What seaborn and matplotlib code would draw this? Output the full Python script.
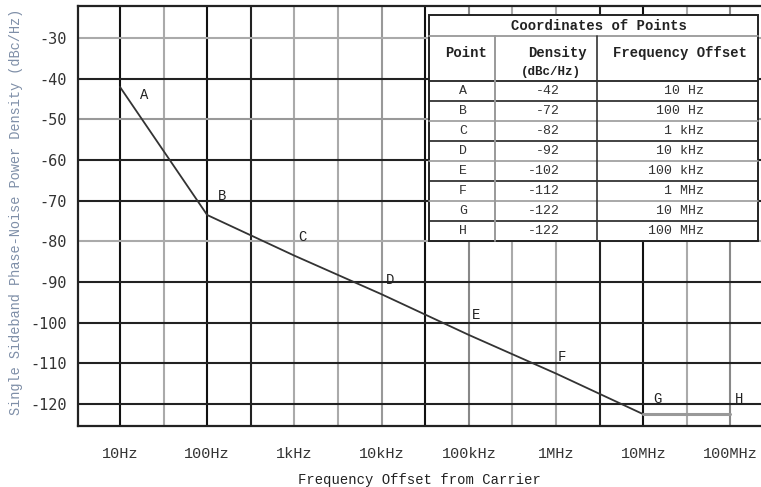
import matplotlib
matplotlib.use("Agg")
import matplotlib.pyplot as plt
import seaborn as sns
import numpy as np
import pandas as pd
from matplotlib.patches import Rectangle
from matplotlib.lines import Line2D

# data
points = ["A", "B", "C", "D", "E", "F", "G", "H"]
freq_hz = [1e1, 1e2, 1e3, 1e4, 1e5, 1e6, 1e7, 1e8]
# curve as drawn in the picture
curve_db = [-42, -73.5, -83.5, -93, -103, -112.5, -122.5, -122.5]
# values listed in the table
table_density = [-42, -72, -82, -92, -102, -112, -122, -122]
table_freq = ["10 Hz", "100 Hz", "1 kHz", "10 kHz", "100 kHz", "1 MHz", "10 MHz", "100 MHz"]
xtick_labels = ["10Hz", "100Hz", "1kHz", "10kHz", "100kHz", "1MHz", "10MHz", "100MHz"]
yticks = [-30, -40, -50, -60, -70, -80, -90, -100, -110, -120]

W, H = 761, 487
sns.set_style("white")
MONO = ["Liberation Mono", "DejaVu Sans Mono"]

fig = plt.figure(figsize=(W / 100, H / 100), dpi=100)
ax = fig.add_axes([78 / W, 1 - 426 / H, (W - 78) / W, (426 - 6) / H])

df = pd.DataFrame({"freq": freq_hz, "db": curve_db, "point": points})
sns.lineplot(data=df.iloc[:7], x="freq", y="db", ax=ax, color="#333333", lw=1.3, zorder=5)
sns.lineplot(data=df.iloc[6:], x="freq", y="db", ax=ax, color="#999999", lw=2.2, zorder=5)
ax.set_xscale("log")
ax.set_xlim(10 ** 0.519, 10 ** 8.35)
ax.set_ylim(-125.4, -22.1)

# grid lines (half-decade verticals, irregular shading like the original)
vgrid_exp = np.arange(1.0, 8.01, 0.5)
vgrid_col = ["#111", "#aaa", "#111", "#222", "#aaa", "#aaa", "#999", "#111",
             "#888", "#aaa", "#aaa", "#222", "#111", "#aaa", "#888"]
for e, c in zip(vgrid_exp, vgrid_col):
    ax.axvline(10 ** e, color=c, lw=1.5, zorder=1)
hgrid_col = {-30: "#aaa", -50: "#999", -80: "#aaa"}
for y in yticks:
    ax.axhline(y, color=hgrid_col.get(y, "#222"), lw=1.5, zorder=1)

for s in ["left", "bottom", "top"]:
    ax.spines[s].set_color("#222")
    ax.spines[s].set_linewidth(1.6)
ax.spines["right"].set_visible(False)

ax.set_xticks(freq_hz)
ax.set_xticklabels(xtick_labels, fontfamily=MONO, fontsize=11, color="#333")
ax.xaxis.set_minor_locator(matplotlib.ticker.NullLocator())
ax.set_yticks(yticks)
ax.set_yticklabels([f"{v}" for v in yticks], fontfamily=["DejaVu Sans Mono"], fontsize=11, color="#333")
ax.tick_params(axis="x", length=0, pad=15)
ax.tick_params(axis="y", length=0, pad=8)
ax.set_xlabel("Frequency Offset from Carrier", fontfamily=MONO, fontsize=10, color="#222", labelpad=9)
ax.set_ylabel("Single Sideband Phase-Noise Power Density (dBc/Hz)", fontfamily=MONO,
              fontsize=9.8, color="#7f8fa8")
ax.yaxis.set_label_coords(-(78 - 23) / (W - 78), 0.51)

# point labels
label_off = [(24, -8), (15, 19), (8, 19), (8, 14), (7, 20), (6, 17), (14, 15), (9, 15)]
for p, xf, yd, off in zip(points, freq_hz, curve_db, label_off):
    ax.annotate(p, (xf, yd), xytext=off, textcoords="offset pixels", ha="center",
                va="center", fontfamily=MONO, fontsize=10, color="#222", zorder=6)


# table drawn in figure pixels
def fx(x):
    return x / W


def fy(y):
    return 1 - y / H


def hline(y, x0, x1, c="#333", lw=1.2):
    fig.add_artist(Line2D([fx(x0), fx(x1)], [fy(y), fy(y)], color=c, lw=lw, zorder=11))


def vline(x, y0, y1, c="#333", lw=1.2):
    fig.add_artist(Line2D([fx(x), fx(x)], [fy(y0), fy(y1)], color=c, lw=lw, zorder=11))


fig.add_artist(Rectangle((fx(429), fy(241)), fx(758) - fx(429), fy(15) - fy(241),
                         facecolor="white", edgecolor="#222", lw=1.4, zorder=10))
hline(36, 429, 758, "#999", 1.3)
hline(81, 429, 758, "#222", 1.3)
row_y = [101, 121, 141, 161, 181, 201, 221]
row_c = ["#222", "#999", "#222", "#999", "#222", "#999", "#222"]
for y, c in zip(row_y, row_c):
    hline(y, 429, 758, c, 1.2)
vline(495, 36, 241, "#999", 1.4)
vline(597, 36, 241, "#333", 1.2)

tkw = dict(fontfamily=MONO, color="#222", zorder=12, va="center")
fig.text(fx(599), fy(26), "Coordinates of Points", ha="center", fontsize=10, weight="bold", **tkw)
fig.text(fx(466), fy(53), "Point", ha="center", fontsize=10, weight="bold", **tkw)
fig.text(fx(557), fy(53), "Density", ha="center", fontsize=10, weight="bold", **tkw)
fig.text(fx(551), fy(72), "(dBc/Hz)", ha="center", fontsize=9, weight="bold", **tkw)
fig.text(fx(680), fy(53), "Frequency Offset", ha="center", fontsize=10, weight="bold", **tkw)
for i, (p, d, f) in enumerate(zip(points, table_density, table_freq)):
    yc = 91 + 20 * i
    tc = dict(tkw, color="#333")
    fig.text(fx(463), fy(yc), p, ha="center", fontsize=9.5, **tc)
    fig.text(fx(560), fy(yc), f"{d}", ha="right", fontsize=9.5, **tc)
    fig.text(fx(704), fy(yc), f, ha="right", fontsize=9.5, **tc)

fig.savefig("out.png", dpi=100)
